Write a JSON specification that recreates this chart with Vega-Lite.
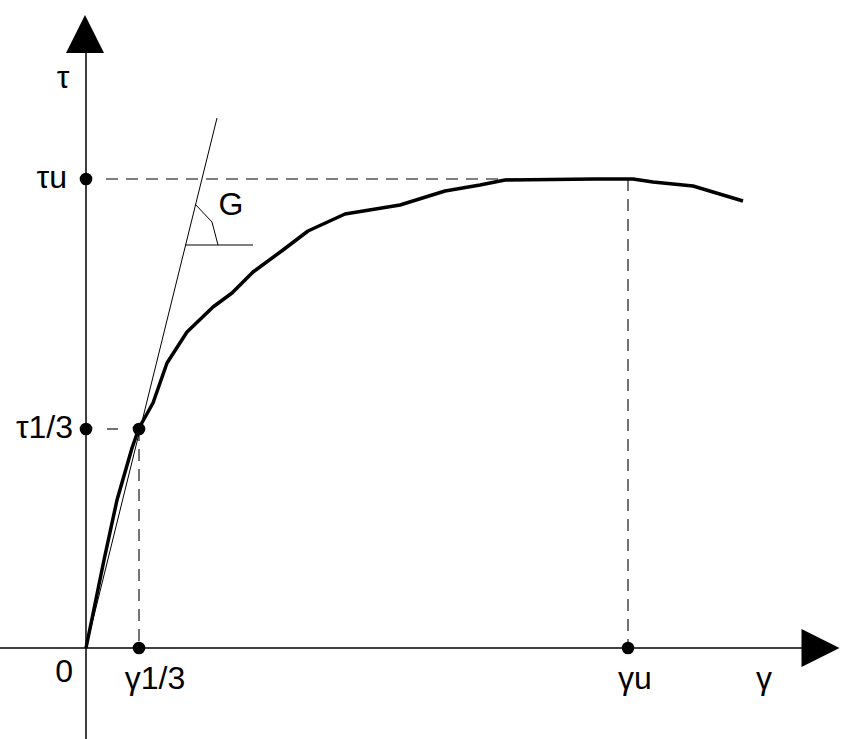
{
  "$schema": "https://vega.github.io/schema/vega-lite/v6.json",
  "width": 847,
  "height": 739,
  "autosize": {"type": "none"},
  "padding": 0,
  "background": "white",
  "config": {"view": {"stroke": null}},
  "datasets": {
    "axes": [
      {"id": "tau", "i": 0, "g": 0, "t": -91},
      {"id": "tau", "i": 1, "g": 0, "t": 600},
      {"id": "gamma", "i": 0, "g": -86, "t": 0},
      {"id": "gamma", "i": 1, "g": 720, "t": 0}
    ],
    "arrowUp": [{"g": -1, "t": 614}],
    "arrowRight": [{"g": 734.5, "t": 0}],
    "dashed": [
      {"id": "tu_h", "i": 0, "g": 20, "t": 469},
      {"id": "tu_h", "i": 1, "g": 542, "t": 469},
      {"id": "gu_v", "i": 0, "g": 542, "t": 469},
      {"id": "gu_v", "i": 1, "g": 542, "t": 0},
      {"id": "t13_h", "i": 0, "g": 21, "t": 219},
      {"id": "t13_h", "i": 1, "g": 32, "t": 219},
      {"id": "g13_v", "i": 0, "g": 53, "t": 219},
      {"id": "g13_v", "i": 1, "g": 53, "t": 0}
    ],
    "thin": [
      {"id": "tangent", "i": 0, "g": 0, "t": 0},
      {"id": "tangent", "i": 1, "g": 131, "t": 530},
      {"id": "base", "i": 0, "g": 99, "t": 403},
      {"id": "base", "i": 1, "g": 167, "t": 403},
      {"id": "arc", "i": 0, "g": 109, "t": 444},
      {"id": "arc", "i": 1, "g": 126, "t": 426},
      {"id": "arc", "i": 2, "g": 132, "t": 403}
    ],
    "curve": [
      {"i": 0, "g": 0, "t": 0},
      {"i": 1, "g": 18, "t": 88},
      {"i": 2, "g": 31, "t": 148},
      {"i": 3, "g": 46, "t": 200},
      {"i": 4, "g": 53, "t": 220},
      {"i": 5, "g": 67, "t": 245},
      {"i": 6, "g": 81, "t": 285},
      {"i": 7, "g": 101, "t": 316},
      {"i": 8, "g": 127, "t": 341},
      {"i": 9, "g": 146, "t": 355},
      {"i": 10, "g": 167, "t": 376},
      {"i": 11, "g": 197, "t": 398},
      {"i": 12, "g": 222, "t": 417},
      {"i": 13, "g": 259, "t": 434},
      {"i": 14, "g": 314, "t": 443},
      {"i": 15, "g": 359, "t": 457},
      {"i": 16, "g": 394, "t": 463},
      {"i": 17, "g": 419, "t": 468},
      {"i": 18, "g": 509, "t": 469},
      {"i": 19, "g": 547, "t": 469},
      {"i": 20, "g": 567, "t": 466},
      {"i": 21, "g": 607, "t": 462},
      {"i": 22, "g": 657, "t": 447}
    ],
    "dots": [
      {"g": 0, "t": 469},
      {"g": 0, "t": 219},
      {"g": 53, "t": 219},
      {"g": 53, "t": 0},
      {"g": 542, "t": 0}
    ],
    "labelsCenter": [
      {"label": "τ", "g": -23, "t": 560},
      {"label": "γ1/3", "g": 69, "t": -41},
      {"label": "γu", "g": 549, "t": -41},
      {"label": "γ", "g": 678, "t": -41},
      {"label": "G", "g": 145, "t": 433}
    ],
    "labelsRight": [
      {"label": "τu", "g": -19, "t": 460},
      {"label": "τ1/3", "g": -13, "t": 210},
      {"label": "0", "g": -13, "t": -34}
    ]
  },
  "encoding": {
    "x": {"field": "g", "type": "quantitative", "scale": {"domain": [-86, 761], "nice": false, "zero": false}, "axis": null},
    "y": {"field": "t", "type": "quantitative", "scale": {"domain": [-91, 648], "nice": false, "zero": false}, "axis": null}
  },
  "layer": [
    {
      "data": {"name": "axes"},
      "mark": {"type": "line", "color": "black", "strokeWidth": 1.5},
      "encoding": {"detail": {"field": "id"}, "order": {"field": "i"}}
    },
    {
      "data": {"name": "arrowUp"},
      "mark": {"type": "point", "shape": "M0,-1L1,1L-1,1Z", "filled": true, "color": "black", "opacity": 1, "size": 1444, "strokeWidth": 0}
    },
    {
      "data": {"name": "arrowRight"},
      "mark": {"type": "point", "shape": "M1,0L-1,-1L-1,1Z", "filled": true, "color": "black", "opacity": 1, "size": 1444, "strokeWidth": 0}
    },
    {
      "data": {"name": "dashed"},
      "mark": {"type": "line", "color": "black", "strokeWidth": 1.1, "strokeDash": [12, 8]},
      "encoding": {"detail": {"field": "id"}, "order": {"field": "i"}}
    },
    {
      "data": {"name": "thin"},
      "mark": {"type": "line", "color": "black", "strokeWidth": 1},
      "encoding": {"detail": {"field": "id"}, "order": {"field": "i"}}
    },
    {
      "data": {"name": "curve"},
      "mark": {"type": "line", "color": "black", "strokeWidth": 3.5, "strokeJoin": "round"},
      "encoding": {"order": {"field": "i"}}
    },
    {
      "data": {"name": "dots"},
      "mark": {"type": "point", "shape": "circle", "filled": true, "color": "black", "opacity": 1, "size": 160}
    },
    {
      "data": {"name": "labelsCenter"},
      "mark": {"type": "text", "font": "Liberation Sans", "fontSize": 32, "align": "center", "baseline": "alphabetic", "color": "black"},
      "encoding": {"text": {"field": "label"}}
    },
    {
      "data": {"name": "labelsRight"},
      "mark": {"type": "text", "font": "Liberation Sans", "fontSize": 32, "align": "right", "baseline": "alphabetic", "color": "black"},
      "encoding": {"text": {"field": "label"}}
    }
  ]
}
